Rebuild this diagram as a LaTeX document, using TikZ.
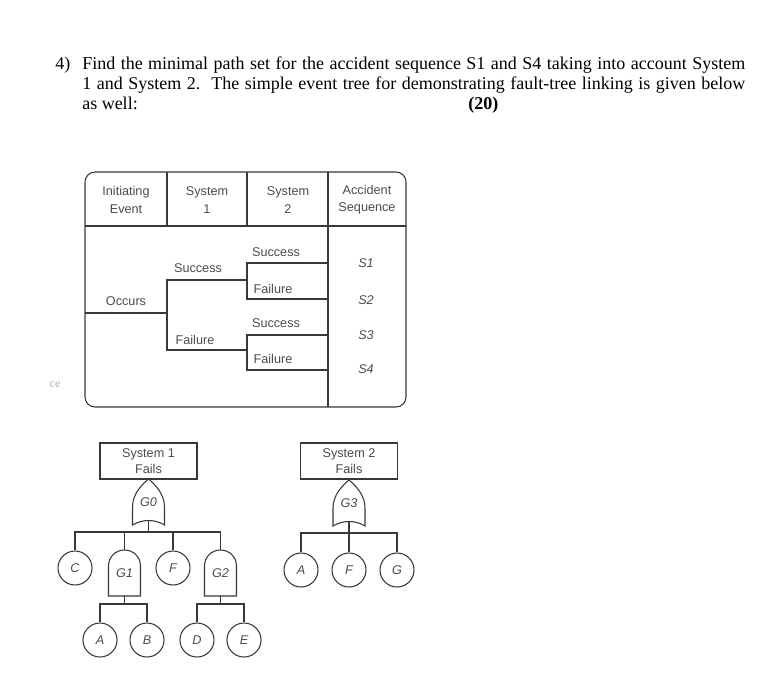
\documentclass[tikz,border=0pt]{standalone}
\usepackage{fontspec}
\setmainfont{Liberation Serif}
\setsansfont{Liberation Sans}
\usetikzlibrary{positioning}

\tikzset{
  treeline/.style={draw=black!78, line width=0.8pt},
  treetext/.style={font=\sffamily\fontsize{9.5}{11.5}\selectfont, text=black!70, inner sep=0pt},
  italtext/.style={font=\sffamily\itshape\fontsize{9.5}{11.5}\selectfont, text=black!70, inner sep=0pt},
  failbox/.style={treeline, rectangle, minimum width=72.75pt, minimum height=27pt, align=center, treetext},
  gatebox/.style={minimum width=24pt, minimum height=34.5pt, italtext},
  basic/.style={treeline, circle, minimum size=25.5pt, italtext},
}

% fault-tree gates, drawn round a named node
\newcommand{\orgate}[3]{%
  \node[gatebox] (#1) at (#2) {#3};
  \draw[treeline, shift={(#1.center)}] (-16,23) -- (-16,5) .. controls (-16,-8) and (-7,-17) .. (0,-23)
    .. controls (7,-17) and (16,-8) .. (16,5) -- (16,23) .. controls (6,17) and (-6,17) .. (-16,23) -- cycle;
}
\newcommand{\andgate}[3]{%
  \node[gatebox] (#1) at (#2) {#3};
  \draw[treeline, shift={(#1.center)}] (-16,23) -- (-16,-7) .. controls (-16,-16) and (-9,-23) .. (0,-23)
    .. controls (9,-23) and (16,-16) .. (16,-7) -- (16,23) -- cycle;
}

\begin{document}
\begin{tikzpicture}[x=0.75pt, y=-0.75pt]
  \path[use as bounding box, fill=white] (0,0) rectangle (770,686);

  % question
  \node[anchor=base west, inner sep=0pt, font=\fontsize{13.5}{15}\selectfont] (qnum) at (55,69) {4)};
  \node[anchor=north west, inner sep=0pt, text width=497.25pt, align=justify,
        font=\fontsize{13.5}{15}\selectfont] (question) at (82,56.5)
    {Find the minimal path set for the accident sequence S1 and S4 taking into account System\linebreak
     1 and System 2.\ \ The simple event tree for demonstrating fault-tree linking is given below\linebreak
     as well:};
  \node[anchor=base west, inner sep=0pt, font=\bfseries\fontsize{13.5}{15}\selectfont] (points) at (468,109) {(20)};
  \node[inner sep=0pt, text=black!30, font=\fontsize{9}{10}\selectfont] (fragment) at (55,385) {ce};

  % event tree
  \draw[treeline, rounded corners=7.5pt] (85,172) rectangle (406,407);
  \draw[treeline] (85,226) -- (406,226);
  \draw[treeline] (167,172) -- (167,226);
  \draw[treeline] (247,172) -- (247,226);
  \draw[treeline] (328,172) -- (328,407);
  \draw[treeline] (85,313) -- (167,313);
  \draw[treeline] (247,280) -- (167,280) -- (167,350) -- (247,350);
  \draw[treeline] (328,263) -- (247,263) -- (247,299) -- (328,299);
  \draw[treeline] (328,335) -- (247,335) -- (247,370) -- (328,370);

  \node[treetext, align=center, font=\sffamily\fontsize{9.5}{13}\selectfont] (hinit) at (126,200) {Initiating\\Event};
  \node[treetext, align=center, font=\sffamily\fontsize{9.5}{13}\selectfont] (hsys1) at (207,200) {System\\1};
  \node[treetext, align=center, font=\sffamily\fontsize{9.5}{13}\selectfont] (hsys2) at (288,200) {System\\2};
  \node[treetext, align=center, font=\sffamily\fontsize{9.5}{13}\selectfont] (hseq) at (367,200) {Accident\\Sequence};

  \node[treetext] (occurs) at (126,301) {Occurs};
  \node[treetext] (s1succ) at (198,268) {Success};
  \node[treetext] (s1fail) at (195,340) {Failure};
  \node[treetext] (s2succa) at (276,252) {Success};
  \node[treetext] (s2faila) at (273,289) {Failure};
  \node[treetext] (s2succb) at (276,323) {Success};
  \node[treetext] (s2failb) at (273,359) {Failure};
  \node[italtext] (seq1) at (366,263) {S1};
  \node[italtext] (seq2) at (366,300) {S2};
  \node[italtext] (seq3) at (366,335) {S3};
  \node[italtext] (seq4) at (366,369) {S4};

  % fault tree, system 1
  \node[failbox] (sys1) at (148.5,461) {System 1\\Fails};
  \orgate{g0}{148.5,502}{G0}
  \coordinate (bar0) at (148.5,532);
  \node[basic] (c1) at (75,568) {C};
  \andgate{g1}{124.5,573}{G1}
  \node[basic] (f1) at (173,568) {F};
  \andgate{g2}{220.5,573}{G2}
  \coordinate (bar1) at (124.5,604);
  \coordinate (bar2) at (220.5,604);
  \node[basic] (a1) at (100,640) {A};
  \node[basic] (b1) at (147,640) {B};
  \node[basic] (d1) at (197,640) {D};
  \node[basic] (e1) at (244,640) {E};

  \draw[treeline] ([yshift=3.4pt]g0.south) -- (bar0);
  \foreach \n in {c1,g1,f1,g2} \draw[treeline] (bar0) -| (\n.north);
  \draw[treeline] (g1.south) -- (bar1);
  \foreach \n in {a1,b1} \draw[treeline] (bar1) -| (\n.north);
  \draw[treeline] (g2.south) -- (bar2);
  \foreach \n in {d1,e1} \draw[treeline] (bar2) -| (\n.north);

  % fault tree, system 2
  \node[failbox] (sys2) at (349,461) {System 2\\Fails};
  \orgate{g3}{349,503}{G3}
  \coordinate (bar3) at (349,533);
  \node[basic] (a2) at (301,570) {A};
  \node[basic] (f2) at (349,570) {F};
  \node[basic] (g4) at (397,570) {G};

  \draw[treeline] ([yshift=3.4pt]g3.south) -- (bar3);
  \foreach \n in {a2,f2,g4} \draw[treeline] (bar3) -| (\n.north);
\end{tikzpicture}
\end{document}
